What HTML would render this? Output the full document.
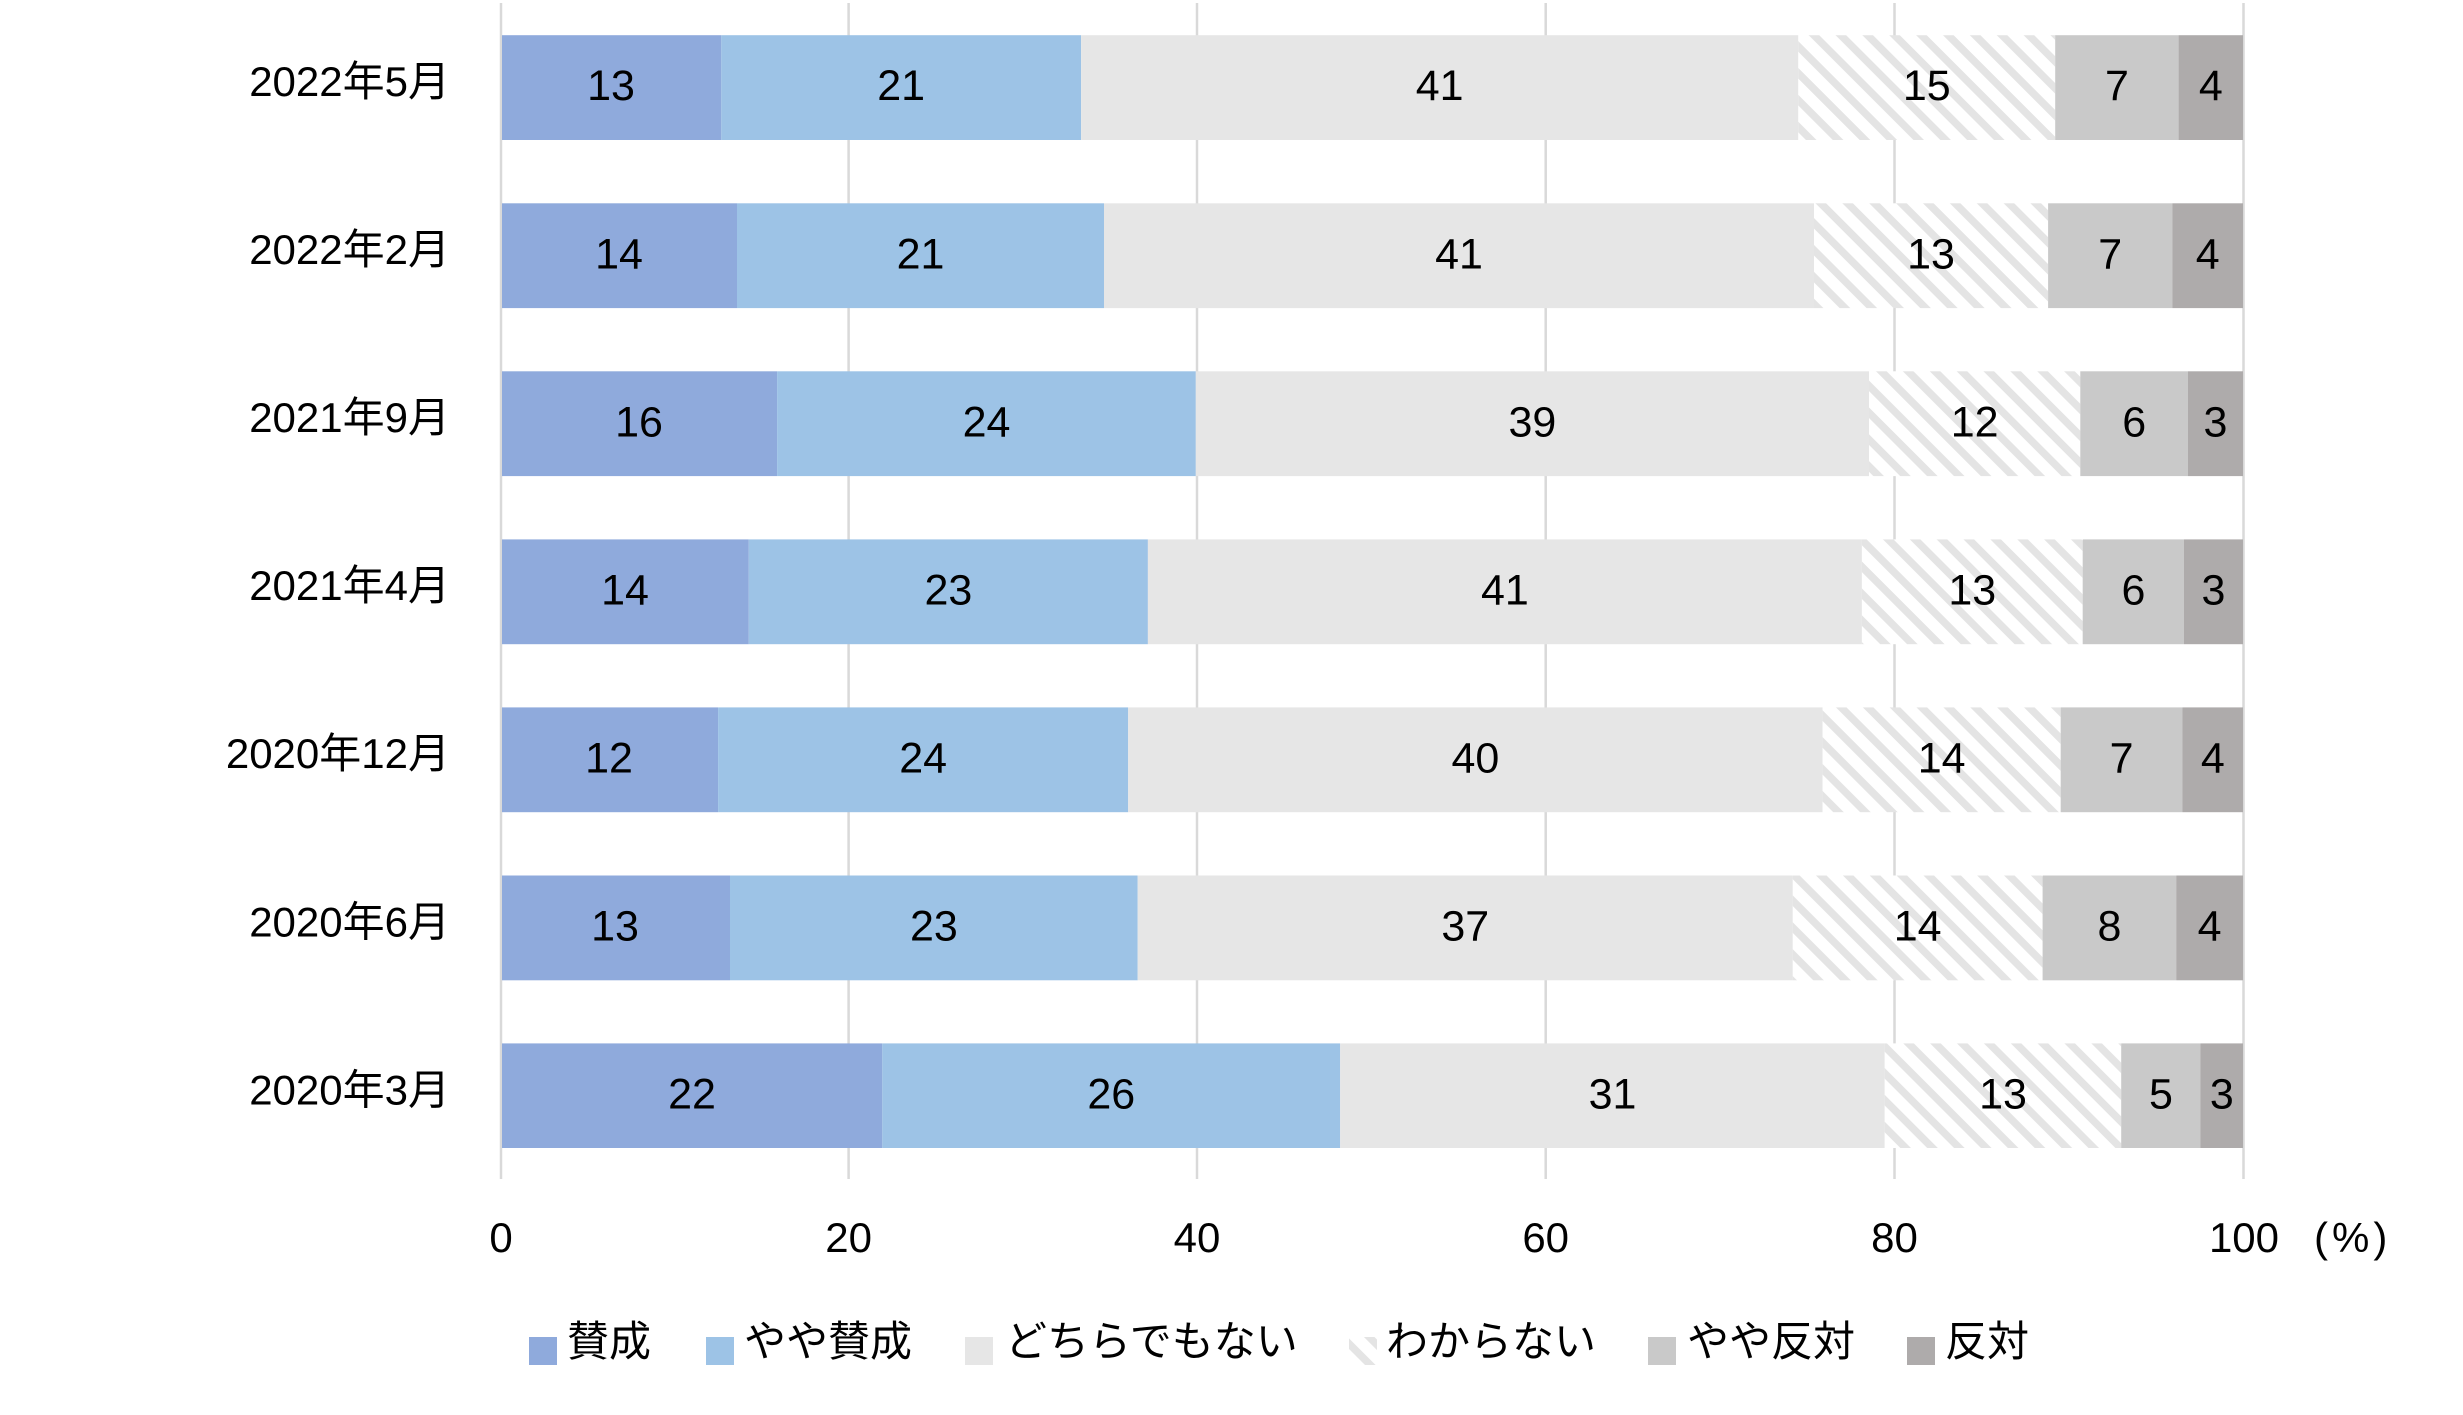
<!DOCTYPE html>
<html>
<head>
<meta charset="utf-8">
<style>
html,body{margin:0;padding:0;background:#fff;}
svg{display:block;}
text{font-family:"Liberation Sans","Noto Sans CJK JP",sans-serif;fill:#000;}
</style>
</head>
<body>
<svg width="2463" height="1415" viewBox="0 0 2463 1415" xmlns="http://www.w3.org/2000/svg">
<defs>
<pattern id="hatch" width="19" height="19" patternUnits="userSpaceOnUse" patternTransform="rotate(-45)">
<rect x="0" y="0" width="19" height="19" fill="#ffffff"/>
<rect x="0" y="0" width="7.5" height="19" fill="#e4e4e4"/>
</pattern>
</defs>
<rect width="2463" height="1415" fill="#fff"/>
<g stroke="#d9d9d9" stroke-width="2.5">
<line x1="501" y1="3" x2="501" y2="1179"/>
<line x1="848.6" y1="3" x2="848.6" y2="1179"/>
<line x1="1197" y1="3" x2="1197" y2="1179"/>
<line x1="1545.7" y1="3" x2="1545.7" y2="1179"/>
<line x1="1894.5" y1="3" x2="1894.5" y2="1179"/>
<line x1="2243.5" y1="3" x2="2243.5" y2="1179"/>
</g>

<g>
<rect x="502" y="35.2" width="219.3" height="104.8" fill="#8faadc"/>
<rect x="721.3" y="35.2" width="359.8" height="104.8" fill="#9dc3e6"/>
<rect x="1081.1" y="35.2" width="717.2" height="104.8" fill="#e6e6e6"/>
<rect x="1798.3" y="35.2" width="256.9" height="104.8" fill="url(#hatch)"/>
<rect x="2055.2" y="35.2" width="123.4" height="104.8" fill="#c9c9c9"/>
<rect x="2178.6" y="35.2" width="64.4" height="104.8" fill="#aeabab"/>
</g>
<g>
<rect x="502" y="203.3" width="235" height="104.8" fill="#8faadc"/>
<rect x="737" y="203.3" width="367" height="104.8" fill="#9dc3e6"/>
<rect x="1104" y="203.3" width="710" height="104.8" fill="#e6e6e6"/>
<rect x="1814" y="203.3" width="234.1" height="104.8" fill="url(#hatch)"/>
<rect x="2048.1" y="203.3" width="124.2" height="104.8" fill="#c9c9c9"/>
<rect x="2172.3" y="203.3" width="70.7" height="104.8" fill="#aeabab"/>
</g>
<g>
<rect x="502" y="371.3" width="275.1" height="104.8" fill="#8faadc"/>
<rect x="777.1" y="371.3" width="418.7" height="104.8" fill="#9dc3e6"/>
<rect x="1195.8" y="371.3" width="673.2" height="104.8" fill="#e6e6e6"/>
<rect x="1869" y="371.3" width="211.3" height="104.8" fill="url(#hatch)"/>
<rect x="2080.3" y="371.3" width="107.7" height="104.8" fill="#c9c9c9"/>
<rect x="2188" y="371.3" width="55" height="104.8" fill="#aeabab"/>
</g>
<g>
<rect x="502" y="539.4" width="246.8" height="104.8" fill="#8faadc"/>
<rect x="748.8" y="539.4" width="399.1" height="104.8" fill="#9dc3e6"/>
<rect x="1147.9" y="539.4" width="714" height="104.8" fill="#e6e6e6"/>
<rect x="1861.9" y="539.4" width="220.8" height="104.8" fill="url(#hatch)"/>
<rect x="2082.7" y="539.4" width="101.3" height="104.8" fill="#c9c9c9"/>
<rect x="2184" y="539.4" width="59" height="104.8" fill="#aeabab"/>
</g>
<g>
<rect x="502" y="707.4" width="216.1" height="104.8" fill="#8faadc"/>
<rect x="718.1" y="707.4" width="410.1" height="104.8" fill="#9dc3e6"/>
<rect x="1128.2" y="707.4" width="694.4" height="104.8" fill="#e6e6e6"/>
<rect x="1822.6" y="707.4" width="238.1" height="104.8" fill="url(#hatch)"/>
<rect x="2060.7" y="707.4" width="121.8" height="104.8" fill="#c9c9c9"/>
<rect x="2182.5" y="707.4" width="60.5" height="104.8" fill="#aeabab"/>
</g>
<g>
<rect x="502" y="875.5" width="228" height="104.8" fill="#8faadc"/>
<rect x="730" y="875.5" width="407.7" height="104.8" fill="#9dc3e6"/>
<rect x="1137.7" y="875.5" width="655.1" height="104.8" fill="#e6e6e6"/>
<rect x="1792.8" y="875.5" width="249.8" height="104.8" fill="url(#hatch)"/>
<rect x="2042.6" y="875.5" width="133.6" height="104.8" fill="#c9c9c9"/>
<rect x="2176.2" y="875.5" width="66.8" height="104.8" fill="#aeabab"/>
</g>
<g>
<rect x="502" y="1043.4" width="380.3" height="104.6" fill="#8faadc"/>
<rect x="882.3" y="1043.4" width="457.9" height="104.6" fill="#9dc3e6"/>
<rect x="1340.2" y="1043.4" width="544.5" height="104.6" fill="#e6e6e6"/>
<rect x="1884.7" y="1043.4" width="236.5" height="104.6" fill="url(#hatch)"/>
<rect x="2121.2" y="1043.4" width="79.3" height="104.6" fill="#c9c9c9"/>
<rect x="2200.5" y="1043.4" width="42.5" height="104.6" fill="#aeabab"/>
</g>

<g font-size="43" text-anchor="middle">
<text x="611" y="100.2">13</text>
<text x="901.2" y="100.2">21</text>
<text x="1439.7" y="100.2">41</text>
<text x="1926.8" y="100.2">15</text>
<text x="2116.9" y="100.2">7</text>
<text x="2210.8" y="100.2">4</text>
<text x="619" y="268.3">14</text>
<text x="920.5" y="268.3">21</text>
<text x="1459" y="268.3">41</text>
<text x="1931" y="268.3">13</text>
<text x="2110.2" y="268.3">7</text>
<text x="2207.7" y="268.3">4</text>
<text x="639" y="436.3">16</text>
<text x="986.5" y="436.3">24</text>
<text x="1532.4" y="436.3">39</text>
<text x="1974.7" y="436.3">12</text>
<text x="2134.2" y="436.3">6</text>
<text x="2215.5" y="436.3">3</text>
<text x="625" y="604.4">14</text>
<text x="948.4" y="604.4">23</text>
<text x="1504.9" y="604.4">41</text>
<text x="1972.3" y="604.4">13</text>
<text x="2133.4" y="604.4">6</text>
<text x="2213.5" y="604.4">3</text>
<text x="609" y="772.4">12</text>
<text x="923.2" y="772.4">24</text>
<text x="1475.4" y="772.4">40</text>
<text x="1941.7" y="772.4">14</text>
<text x="2121.6" y="772.4">7</text>
<text x="2212.8" y="772.4">4</text>
<text x="615" y="940.5">13</text>
<text x="933.9" y="940.5">23</text>
<text x="1465.3" y="940.5">37</text>
<text x="1917.7" y="940.5">14</text>
<text x="2109.4" y="940.5">8</text>
<text x="2209.6" y="940.5">4</text>
<text x="692" y="1108.4">22</text>
<text x="1111.3" y="1108.4">26</text>
<text x="1612.5" y="1108.4">31</text>
<text x="2003" y="1108.4">13</text>
<text x="2160.9" y="1108.4">5</text>
<text x="2221.8" y="1108.4">3</text>
</g>

<g font-size="42" text-anchor="end">
<text x="450" y="96">2022年5月</text>
<text x="450" y="264.1">2022年2月</text>
<text x="450" y="432.1">2021年9月</text>
<text x="450" y="600.2">2021年4月</text>
<text x="450" y="768.2">2020年12月</text>
<text x="450" y="936.3">2020年6月</text>
<text x="450" y="1104.3">2020年3月</text>
</g>

<g font-size="42" text-anchor="middle">
<text x="501" y="1252">0</text>
<text x="848.6" y="1252">20</text>
<text x="1197" y="1252">40</text>
<text x="1545.7" y="1252">60</text>
<text x="1894.5" y="1252">80</text>
<text x="2244" y="1252">100</text>
</g>
<text x="2314" y="1252" font-size="42" letter-spacing="4">(%)</text>

<g font-size="42">
<rect x="529" y="1337" width="28" height="28" fill="#8faadc"/>
<text x="567" y="1356">賛成</text>
<rect x="706" y="1337" width="28" height="28" fill="#9dc3e6"/>
<text x="744" y="1356">やや賛成</text>
<rect x="965" y="1337" width="28" height="28" fill="#e6e6e6"/>
<text x="1005" y="1356">どちらでもない</text>
<rect x="1349" y="1337" width="28" height="28" fill="url(#hatch)"/>
<text x="1386" y="1356">わからない</text>
<rect x="1648" y="1337" width="28" height="28" fill="#c9c9c9"/>
<text x="1687" y="1356">やや反対</text>
<rect x="1907" y="1337" width="28" height="28" fill="#aeabab"/>
<text x="1945" y="1356">反対</text>
</g>
</svg>
</body>
</html>
